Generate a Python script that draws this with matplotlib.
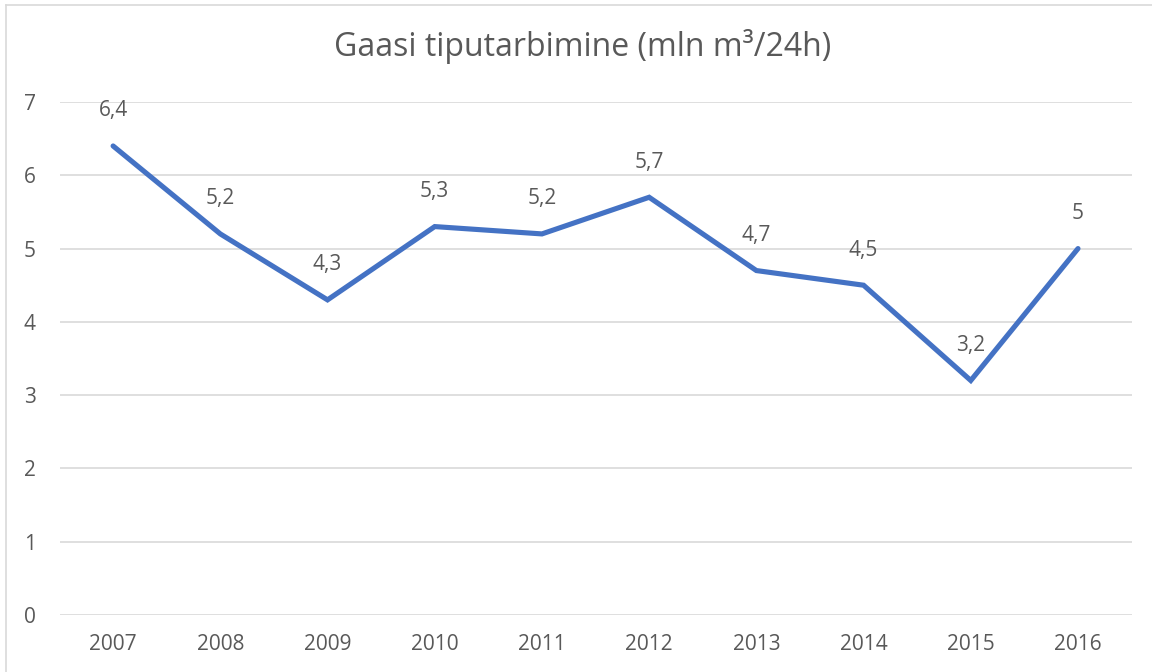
import matplotlib
matplotlib.use('Agg')
from matplotlib import pyplot as plt
from matplotlib.lines import Line2D

years = ['2007', '2008', '2009', '2010', '2011', '2012', '2013', '2014', '2015', '2016']
values = [6.4, 5.2, 4.3, 5.3, 5.2, 5.7, 4.7, 4.5, 3.2, 5.0]

TEXT = '#595959'
GRID = '#d9d9d9'
LINE = '#4472c4'

plt.rcParams['font.family'] = ['Open Sans', 'DejaVu Sans']

fig = plt.figure(figsize=(11.52, 6.72), dpi=100)
ax = fig.add_axes([59.5 / 1152, 1 - 615 / 672, (1131.6 - 59.5) / 1152, (615 - 102) / 672])

x = list(range(len(years)))
ax.plot(x, values, color=LINE, linewidth=3.7, solid_capstyle='round', solid_joinstyle='miter')

for xi, v in zip(x, values):
    label = f'{v:g}'.replace('.', ',')
    ax.annotate(label, xy=(xi, v), xytext=(0, 35), textcoords='offset pixels',
                ha='center', va='center', fontsize=15, color=TEXT)

ax.set_xlim(-0.5, len(years) - 0.5)
ax.set_ylim(0, 7)
ax.set_yticks(range(0, 8))
ax.set_xticks(x)
ax.set_xticklabels(years)
ax.grid(axis='y', color=GRID, linewidth=1.2)
ax.set_axisbelow(True)
for side in ['top', 'right', 'left', 'bottom']:
    ax.spines[side].set_visible(False)
ax.tick_params(axis='both', length=0, colors=TEXT, labelsize=15)
ax.tick_params(axis='y', pad=17)
ax.tick_params(axis='x', pad=14)

fig.text(583 / 1152, 1 - 47 / 672, 'Gaasi tiputarbimine (mln m³/24h)',
         ha='center', va='center', fontsize=23, color=TEXT)

# chart area border (left and top edges)
fig.add_artist(Line2D([5.5 / 1152, 5.5 / 1152], [0, 1 - 4.5 / 672], transform=fig.transFigure,
                      color=GRID, linewidth=1.2))
fig.add_artist(Line2D([5.5 / 1152, 1], [1 - 4.5 / 672, 1 - 4.5 / 672], transform=fig.transFigure,
                      color=GRID, linewidth=1.2))

fig.savefig('out.png', dpi=100, facecolor='white')
